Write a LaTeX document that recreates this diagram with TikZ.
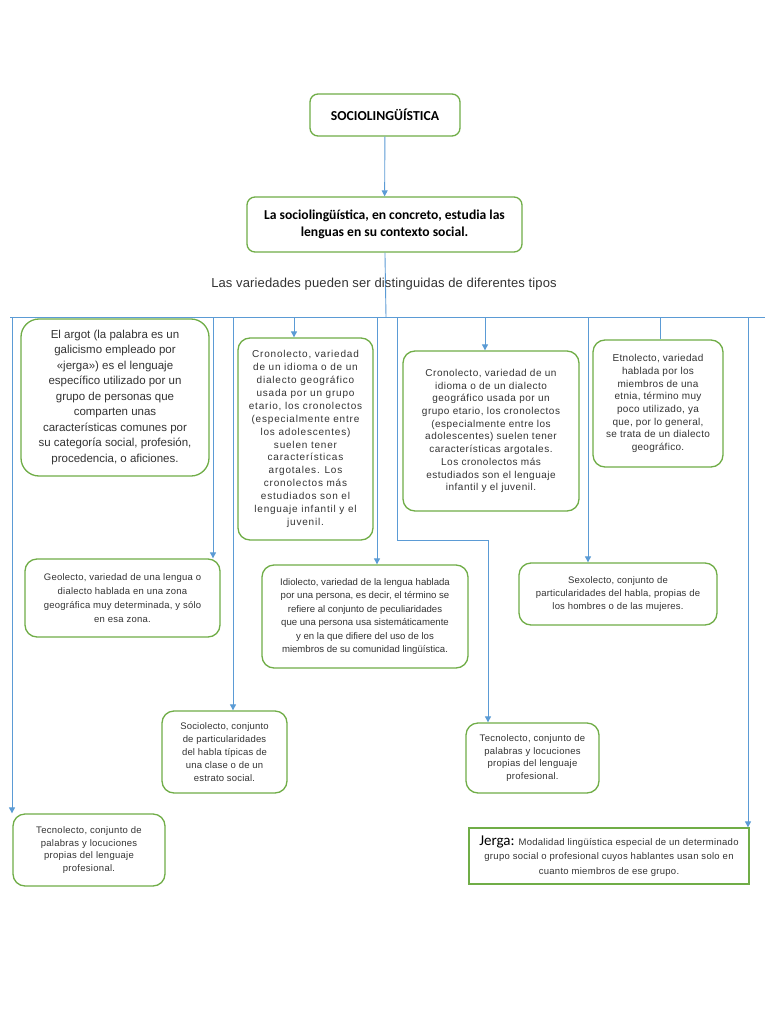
\documentclass[tikz,border=0pt]{standalone}
\usepackage{fontspec}
\setmainfont{Liberation Sans}
\newfontfamily\calibri{Carlito}
\usetikzlibrary{arrows.meta}
\definecolor{verde}{HTML}{70AD47}
\definecolor{azul}{HTML}{5B9BD5}
\definecolor{gris}{HTML}{333333}
% taille, interligne, espacement des lettres
\newcommand\letra[3]{\fontsize{#1}{#2}\selectfont\addfontfeature{LetterSpace=#3}}
\begin{document}
\begin{tikzpicture}[x=1pt,y=-1pt,
  caja/.style={draw=verde, line width=1.3pt, rounded corners=12pt, align=center,
    text=gris, inner sep=2pt, font=\letra{9.5}{13}{2}},
  flecha/.style={azul, line width=0.9pt, -{Triangle[width=6pt,length=6pt]}},
  linea/.style={azul, line width=0.9pt}]
\useasboundingbox[fill=white] (0,0) rectangle (768,1024);
\def\bus{317}

% titulo y definicion
\node[caja, rounded corners=8pt, text=black, minimum width=150, minimum height=42,
  font=\calibri\bfseries\fontsize{13.7}{15}\selectfont] (titulo) at (385,115) {SOCIOLINGÜÍSTICA};
\node[caja, rounded corners=8pt, text=black, minimum width=275, minimum height=55,
  font=\calibri\bfseries\fontsize{13.6}{17}\selectfont] (defin) at (384.5,224.5)
  {La sociolingüística, en concreto, estudia las\\lenguas en su contexto social.};
\draw[flecha] (titulo) -- (defin);

% barra horizontal
\coordinate (izq) at (10,\bus);
\coordinate (der) at (765,\bus);
\coordinate (centro) at (386,\bus);
\draw[linea] (izq) -- (der);
\draw[linea] (defin) -- (centro);
\node[text=gris, font=\letra{13}{15}{1}] (tipos) at (384,284)
  {Las variedades pueden ser distinguidas de diferentes tipos};

% cajas
\node[caja, rounded corners=18pt, minimum width=188, minimum height=157,
  font=\letra{11.5}{15.5}{0}] (argot) at (115,397.5)
  {El argot (la palabra es un\\galicismo empleado por\\«jerga») es el lenguaje\\específico utilizado por un\\grupo de personas que\\comparten unas\\características comunes por\\su categoría social, profesión,\\procedencia, o aficiones.};
\node[caja, minimum width=135, minimum height=202, font=\letra{10}{12.9}{8}] (crono1) at (305.5,439)
  {Cronolecto, variedad\\de un idioma o de un\\dialecto geográfico\\usada por un grupo\\etario, los cronolectos\\(especialmente entre\\los adolescentes)\\suelen tener\\características\\argotales. Los\\cronolectos más\\estudiados son el\\lenguaje infantil y el\\juvenil.};
\node[caja, minimum width=176, minimum height=160, font=\letra{10}{12.7}{5}] (crono2) at (491,431)
  {Cronolecto, variedad de un\\idioma o de un dialecto\\geográfico usada por un\\grupo etario, los cronolectos\\(especialmente entre los\\adolescentes) suelen tener\\características argotales.\\Los cronolectos más\\estudiados son el lenguaje\\infantil y el juvenil.};
\node[caja, minimum width=130, minimum height=127, font=\letra{10}{12.7}{3}] (etno) at (658,403.5)
  {Etnolecto, variedad\\hablada por los\\miembros de una\\etnia, término muy\\poco utilizado, ya\\que, por lo general,\\se trata de un dialecto\\geográfico.};
\node[caja, minimum width=195, minimum height=78, font=\letra{9.5}{14}{2.5}] (geo) at (122.5,598)
  {Geolecto, variedad de una lengua o\\dialecto hablada en una zona\\geográfica muy determinada, y sólo\\en esa zona.};
\node[caja, minimum width=206, minimum height=103, font=\letra{9.6}{13.4}{0}] (idio) at (365,616.5)
  {Idiolecto, variedad de la lengua hablada\\por una persona, es decir, el término se\\refiere al conjunto de peculiaridades\\que una persona usa sistemáticamente\\y en la que difiere del uso de los\\miembros de su comunidad lingüística.};
\node[caja, minimum width=198, minimum height=62] (sexo) at (618,594)
  {Sexolecto, conjunto de\\particularidades del habla, propias de\\los hombres o de las mujeres.};
\node[caja, minimum width=125, minimum height=82] (socio) at (224.5,752)
  {Sociolecto, conjunto\\de particularidades\\del habla típicas de\\una clase o de un\\estrato social.};
\node[caja, minimum width=152, minimum height=72, font=\letra{9.5}{12.7}{3}] (tecno1) at (89,850)
  {Tecnolecto, conjunto de\\palabras y locuciones\\propias del lenguaje\\profesional.};
\node[caja, minimum width=133, minimum height=70, font=\letra{9.5}{12.7}{3}] (tecno2) at (532.5,758)
  {Tecnolecto, conjunto de\\palabras y locuciones\\propias del lenguaje\\profesional.};
\node[caja, rounded corners=0pt, minimum width=280, minimum height=56, font=\letra{9.5}{14.5}{3}] (jerga) at (609,856)
  {{\calibri\color{black}\fontsize{15}{14}\selectfont Jerga:} Modalidad lingüística especial de un determinado\\grupo social o profesional cuyos hablantes usan solo en\\cuanto miembros de ese grupo.};

% bajadas desde la barra
\draw[flecha] (12,\bus) -- (tecno1.north -| 12,0);
\draw[linea] (104,\bus) -- (argot.north -| 104,0);
\draw[flecha] (213,\bus) -- (geo.north -| 213,0);
\draw[flecha] (233,\bus) -- (socio.north -| 233,0);
\draw[flecha] (294,\bus) -- (crono1.north -| 294,0);
\draw[flecha] (377,\bus) -- (idio.north -| 377,0);
\draw[flecha] (397,\bus) -- (397,540) -- (488,540) -- (tecno2.north -| 488,0);
\draw[flecha] (485,\bus) -- (crono2.north -| 485,0);
\draw[flecha] (588,\bus) -- (sexo.north -| 588,0);
\draw[linea] (660,\bus) -- (etno.north -| 660,0);
\draw[flecha] (748,\bus) -- (jerga.north -| 748,0);
\end{tikzpicture}
\end{document}
